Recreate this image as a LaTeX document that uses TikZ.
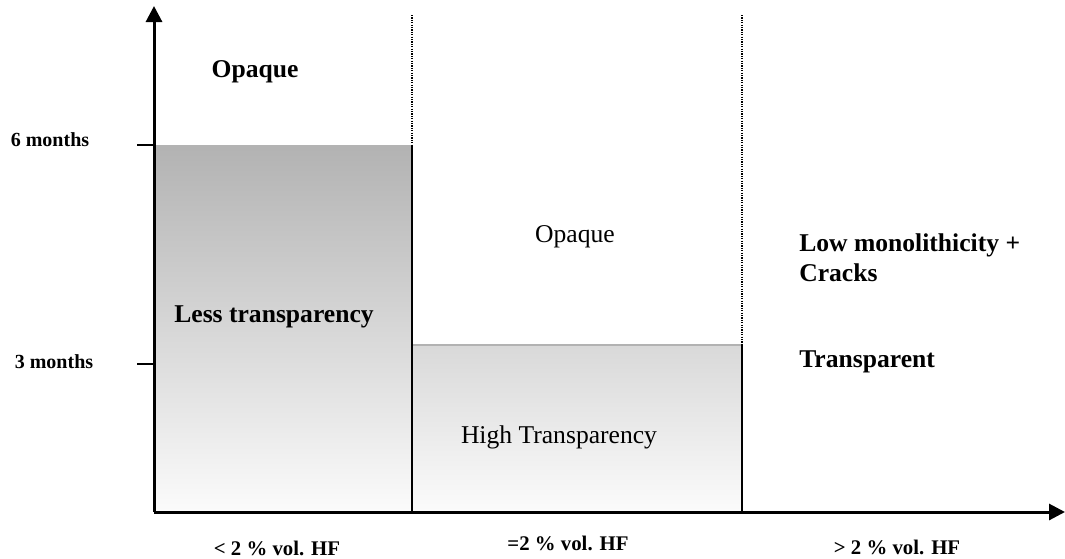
\documentclass[tikz,border=0pt]{standalone}
\usepackage{fontspec}
\setmainfont{Liberation Serif}
\usetikzlibrary{arrows,arrows.meta}
\usetikzlibrary{positioning}

\begin{document}
\begin{tikzpicture}[x=0.5pt,y=-0.5pt,>={Triangle[length=8pt,width=8pt]},semithick]
	\tikzstyle{axis}=[line width=1.5pt]
	\tikzstyle{tickmark}=[line width=0.8pt]
	\tikzstyle{border}=[line width=0.6pt]
	\tikzstyle{limit}=[line width=0.9pt, dash pattern=on 0.6pt off 0.6pt]
	\tikzstyle{timelabel}=[font=\bfseries\fontsize{10}{12}\selectfont]
	\tikzstyle{hflabel}=[font=\bfseries\fontsize{10.4}{12}\selectfont]
	\tikzstyle{zone}=[font=\fontsize{12.8}{15}\selectfont]
	\tikzstyle{boldzone}=[font=\bfseries\fontsize{12.8}{15}\selectfont]

	\useasboundingbox (0,0) rectangle (1065,558);

	% corner points of the axes and the time levels
	\coordinate (O)     at (154,512);
	\coordinate (Ytop)  at (154,6);
	\coordinate (Xend)  at (1065,512);
	\coordinate (Six)   at (154,145);
	\coordinate (Three) at (154,364);
	\coordinate (A)     at (412,512);
	\coordinate (A6)    at (412,145);
	\coordinate (A3)    at (412,345);
	\coordinate (Atop)  at (412,15);
	\coordinate (B)     at (742,512);
	\coordinate (B3)    at (742,345);
	\coordinate (Btop)  at (742,15);

	% shaded zones
	\shade[top color=gray!60, bottom color=gray!3] (Six) rectangle (A);
	\shade[top color=gray!30, bottom color=gray!3] (A3) rectangle (B);
	\draw[gray!60, line width=1pt] (A3) -- (B3);

	% zone borders
	\draw[border] (A6) -- (A);
	\draw[border] (B3) -- (B);
	\draw[limit] (Atop) -- (A6);
	\draw[limit] (Btop) -- (B3);

	% axes and ticks
	\draw[axis,->] (O) -- (Ytop);
	\draw[axis,->] (O) -- (Xend);
	\draw[tickmark] (Six) -- ++(-17,0);
	\draw[tickmark] (Three) -- ++(-17,0);

	\node[timelabel] (m6) at (50,140) {6 months};
	\node[timelabel] (m3) at (54,362) {3 months};

	\node[boldzone] (opaqueA) at (255,72)  {Opaque};
	\node[boldzone] (lessT)   at (274,317) {Less transparency};
	\node[zone]     (opaqueB) at (575,237) {Opaque};
	\node[zone]     (highT)   at (559,437) {High Transparency};
	\node[boldzone, align=left, anchor=west] (cracks) at (792,258) {Low monolithicity +\\Cracks};
	\node[boldzone, anchor=west] (transp) at (792,362) {Transparent};

	\node[hflabel] (lowHF)  at (277,548) {< 2 \% vol. HF};
	\node[hflabel] (eqHF)   at (568,543) {=2 \% vol. HF};
	\node[hflabel] (highHF) at (897,547) {> 2 \% vol. HF};
\end{tikzpicture}
\end{document}
